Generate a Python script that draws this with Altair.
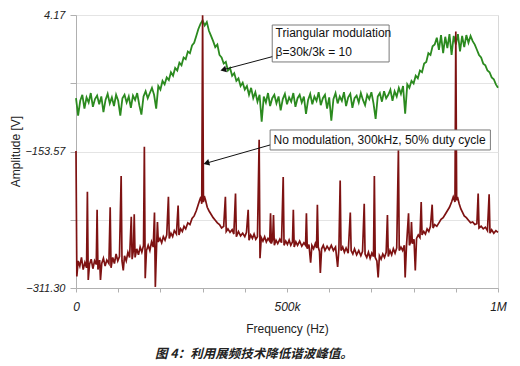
import altair as alt
import pandas as pd

# ---------------- data ----------------
# Triangular-modulation spectrum: (frequency kHz, amplitude V)
green_trace = [
    (0, -92), (5, -112), (10, -95), (15, -88), (20, -104), (25, -91), (30, -97), (35, -86),
    (40, -102), (45, -93), (50, -89), (55, -99), (60, -90), (65, -108), (70, -94), (75, -87),
    (80, -98), (85, -91), (90, -101), (95, -88), (100, -95), (105, -112), (110, -92), (115, -88),
    (120, -97), (125, -90), (130, -103), (135, -89), (140, -94), (145, -86), (150, -100), (155, -111),
    (160, -90), (165, -84), (170, -92), (175, -86), (180, -80), (185, -88), (190, -104), (195, -78),
    (200, -82), (205, -72), (210, -76), (215, -68), (220, -71), (225, -62), (230, -66), (235, -57),
    (240, -60), (245, -51), (250, -54), (255, -45), (260, -47), (265, -38), (270, -40), (275, -31),
    (280, -28), (285, -20), (290, -12), (295, -6), (300, -2), (305, -8), (310, -4), (315, -14),
    (320, -20), (325, -26), (330, -33), (335, -30), (340, -42), (345, -45), (350, -52), (355, -50),
    (360, -60), (365, -57), (370, -66), (375, -63), (380, -72), (385, -69), (390, -78), (395, -74),
    (400, -82), (405, -78), (410, -88), (415, -80), (420, -92), (425, -85), (430, -96), (435, -88),
    (440, -119), (445, -90), (450, -97), (455, -86), (460, -101), (465, -92), (470, -88), (475, -98),
    (480, -90), (485, -106), (490, -93), (495, -87), (500, -99), (505, -91), (510, -96), (515, -86),
    (520, -102), (525, -92), (530, -88), (535, -97), (540, -90), (545, -110), (550, -94), (555, -87),
    (560, -99), (565, -90), (570, -95), (575, -85), (580, -100), (585, -92), (590, -88), (595, -104),
    (600, -91), (605, -118), (610, -93), (615, -86), (620, -98), (625, -90), (630, -95), (635, -85),
    (640, -101), (645, -91), (650, -87), (655, -103), (660, -92), (665, -89), (670, -97), (675, -86),
    (680, -94), (685, -100), (690, -88), (695, -93), (700, -85), (705, -98), (710, -116), (715, -90),
    (720, -86), (725, -96), (730, -84), (735, -92), (740, -88), (745, -82), (750, -95), (755, -84),
    (760, -90), (765, -80), (770, -87), (775, -78), (780, -110), (785, -76), (790, -80), (795, -72),
    (800, -75), (805, -66), (810, -69), (815, -60), (820, -62), (825, -52), (830, -50), (835, -40),
    (840, -42), (845, -32), (850, -30), (855, -22), (860, -36), (865, -19), (870, -40), (875, -21),
    (880, -34), (885, -18), (890, -42), (895, -20), (900, -30), (905, -18), (910, -38), (915, -20),
    (920, -33), (925, -19), (930, -28), (935, -20), (940, -26), (945, -30), (950, -36), (955, -42),
    (960, -45), (965, -52), (970, -54), (975, -60), (980, -62), (985, -68), (990, -70), (995, -76),
    (1000, -80),
]

# Unmodulated 300 kHz square wave spectrum: (frequency kHz, amplitude V)
red_trace = [
    (0, -153), (2, -298), (5, -280), (9, -286), (13, -276), (17, -290), (21, -282), (25, -288),
    (27, -200), (29, -302), (32, -284), (36, -278), (40, -289), (44, -280), (48, -284), (50, -221),
    (52, -290), (56, -279), (58, -302), (61, -283), (65, -277), (69, -286), (73, -279), (78, -283),
    (81, -218), (83, -288), (87, -276), (91, -283), (95, -272), (99, -280), (103, -275), (107, -182),
    (109, -280), (112, -291), (115, -274), (119, -280), (123, -270), (127, -276), (131, -229), (133, -278),
    (136, -268), (138, -226), (140, -276), (144, -266), (148, -273), (152, -264), (156, -270), (160, -262),
    (162, -148), (164, -300), (167, -268), (171, -262), (175, -268), (179, -258), (183, -264), (186, -224),
    (188, -310), (191, -262), (193, -235), (195, -258), (199, -254), (203, -259), (207, -252), (211, -256),
    (215, -250), (219, -206), (221, -254), (225, -248), (229, -252), (233, -245), (238, -249), (242, -216),
    (244, -250), (248, -243), (252, -246), (256, -240), (260, -243), (265, -236), (270, -238), (275, -231),
    (280, -228), (285, -222), (289, -216), (293, -210), (296, -206), (298, -214), (300, 4), (302, -212),
    (304, -205), (307, -210), (311, -218), (315, -222), (320, -226), (325, -230), (330, -233), (335, -236),
    (340, -238), (345, -242), (350, -240), (354, -206), (356, -246), (360, -243), (365, -247), (370, -244),
    (374, -249), (378, -202), (380, -252), (385, -246), (390, -251), (395, -248), (400, -252), (404, -247),
    (408, -221), (410, -256), (414, -250), (418, -254), (422, -249), (426, -255), (430, -252), (434, -140),
    (436, -277), (439, -253), (443, -257), (447, -252), (451, -258), (455, -254), (459, -257), (461, -225),
    (463, -260), (466, -255), (468, -227), (470, -262), (474, -256), (478, -260), (483, -255), (487, -259),
    (491, -183), (493, -262), (497, -257), (501, -261), (505, -256), (509, -262), (513, -258), (515, -221),
    (517, -264), (521, -258), (525, -262), (530, -257), (535, -263), (540, -259), (544, -262), (546, -225),
    (548, -266), (552, -261), (556, -282), (559, -262), (563, -266), (567, -260), (570, -265), (572, -215),
    (574, -264), (577, -269), (579, -294), (582, -266), (586, -262), (590, -268), (595, -263), (600, -267),
    (605, -262), (610, -268), (615, -264), (620, -287), (623, -266), (626, -187), (628, -268), (632, -264),
    (636, -270), (640, -265), (645, -271), (650, -224), (652, -268), (656, -272), (660, -266), (665, -273),
    (670, -268), (675, -274), (679, -269), (683, -214), (685, -272), (689, -276), (693, -270), (697, -277),
    (701, -271), (705, -275), (707, -182), (709, -276), (713, -280), (716, -299), (719, -274), (723, -278),
    (727, -272), (731, -276), (735, -270), (738, -227), (740, -275), (744, -268), (748, -273), (752, -266),
    (756, -271), (760, -265), (764, -152), (766, -268), (770, -264), (774, -268), (778, -262), (780, -299),
    (783, -264), (788, -225), (790, -262), (793, -258), (795, -235), (797, -260), (801, -255), (804, -291),
    (807, -254), (811, -250), (815, -253), (818, -212), (820, -250), (824, -246), (828, -249), (832, -243),
    (836, -246), (840, -240), (844, -215), (846, -242), (850, -238), (855, -240), (860, -236), (865, -232),
    (870, -230), (875, -226), (880, -222), (885, -218), (890, -212), (894, -206), (898, -212), (900, -15),
    (902, -210), (904, -206), (908, -214), (912, -220), (916, -224), (920, -228), (925, -230), (930, -233),
    (935, -236), (940, -235), (945, -238), (950, -237), (953, -202), (955, -242), (960, -240), (965, -243),
    (970, -241), (975, -245), (979, -203), (981, -248), (985, -244), (990, -248), (995, -245), (1000, -247),
]

y_ticks = [4.17, -74.70, -153.57, -232.44, -311.30]
x_ticks = [0, 100, 200, 300, 400, 500, 600, 700, 800, 900, 1000]

# annotation boxes / texts / arrows (in data units)
ann_boxes = pd.DataFrame({
    "x": [465, 460], "x2": [742, 982],
    "y": [-7.4, -128.7], "y2": [-50.1, -151.8],
})
ann_texts = pd.DataFrame({
    "x": [473, 473, 468],
    "y": [-17.0, -39.0, -140.5],
    "text": ["Triangular modulation", "β=30k/3k = 10", "No modulation, 300kHz, 50% duty cycle"],
})
ann_arrows = pd.DataFrame({
    "x": [465, 460], "y": [-44.0, -146.0],
    "x2": [349, 309], "y2": [-59.0, -167.0],
    "angle": [345, 344],
})

caption = "图 4：利用展频技术降低谐波峰值。"

# ---------------- chart ----------------
green_df = pd.DataFrame(green_trace, columns=["f", "v"]).assign(order=lambda d: range(len(d)))
red_df = pd.DataFrame(red_trace, columns=["f", "v"]).assign(order=lambda d: range(len(d)))

FONT = "Liberation Sans"

xscale = alt.Scale(domain=[0, 1000], nice=False, zero=False)
yscale = alt.Scale(domain=[-311.30, 4.17], nice=False, zero=False)

x_label_expr = "datum.value == 0 ? '0' : datum.value == 500 ? '500k' : datum.value == 1000 ? '1M' : ''"
y_label_expr = ("(abs(datum.value - 4.17) < 0.5 || abs(datum.value + 153.57) < 0.5 || "
                "abs(datum.value + 311.30) < 0.5) ? format(datum.value, '.2f') : ''")

x_enc = alt.X("f:Q", scale=xscale, axis=alt.Axis(
    values=x_ticks, labelExpr=x_label_expr, grid=False, title="Frequency (Hz)",
    labelFontStyle="italic", labelFontSize=12, labelColor="#222", labelFont=FONT,
    labelPadding=9, tickSize=4, tickColor="#b0b0b0", domainColor="#b0b0b0",
    titleFont=FONT, titleFontSize=12, titleFontWeight="normal", titleColor="#222",
    titlePadding=11, labelOverlap=False, labelFlush=False,
))
y_enc = alt.Y("v:Q", scale=yscale, axis=alt.Axis(
    values=y_ticks, labelExpr=y_label_expr, grid=True, gridColor="#e4e4e4",
    title="Amplitude [V]", labelFontStyle="italic", labelFontSize=11, labelColor="#222",
    labelFont=FONT, labelPadding=5, tickSize=6, tickColor="#b0b0b0", domainColor="#b0b0b0",
    titleFont=FONT, titleFontSize=12, titleFontWeight="normal", titleColor="#222",
    titleX=-61, titleY=136, titleAngle=270, titleAlign="center", titleBaseline="middle",
    labelOverlap=False,
))

green = alt.Chart(green_df).mark_line(color="#2b8a1f", strokeWidth=1.8).encode(
    x=x_enc, y=y_enc, order="order:Q")
red = alt.Chart(red_df).mark_line(color="#7e1212", strokeWidth=1.7).encode(
    x="f:Q", y="v:Q", order="order:Q")

boxes = alt.Chart(ann_boxes).mark_rect(fill="white", stroke="#7a7a7a", strokeWidth=1).encode(
    x="x:Q", x2="x2:Q", y="y:Q", y2="y2:Q")
texts = alt.Chart(ann_texts).mark_text(align="left", baseline="middle", font=FONT,
                                       fontSize=12, color="#111").encode(
    x="x:Q", y="y:Q", text="text:N")
rules = alt.Chart(ann_arrows).mark_rule(color="#111", strokeWidth=1).encode(
    x="x:Q", y="y:Q", x2="x2:Q", y2="y2:Q")
heads = alt.Chart(ann_arrows).mark_point(shape="triangle-left", filled=True, size=45,
                                         color="#111", opacity=1).encode(
    x="x2:Q", y="y2:Q", angle=alt.Angle("angle:Q", scale=None))

chart = alt.layer(green, red, boxes, rules, heads, texts).properties(
    width=422, height=273,
    autosize=alt.AutoSizeParams(type="none"),
    padding={"left": 68, "top": 7, "right": 14, "bottom": 80},
    title=alt.Title(caption, orient="bottom", anchor="start", frame="group", dx=79, offset=14,
                    font="Noto Sans CJK SC", fontSize=12.5, fontStyle="italic",
                    fontWeight="bold", color="#222"),
).configure_view(stroke="#d8d8d8", strokeWidth=1)

chart.save("out.html", embed_options={"renderer": "svg", "actions": False})
